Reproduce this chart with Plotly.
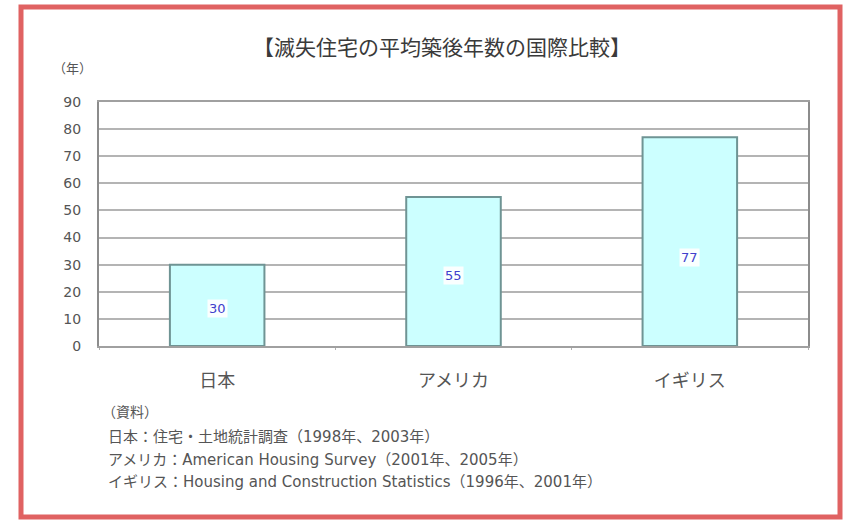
import plotly.graph_objects as go

# Average age of demolished housing, by country (years)
countries = ["日本", "アメリカ", "イギリス"]
avg_years = [30, 55, 77]
y_ticks = [0, 10, 20, 30, 40, 50, 60, 70, 80, 90]

title_text = "【滅失住宅の平均築後年数の国際比較】"
unit_text = "（年）"
source_head = "（資料）"
source_lines = [
    "日本：住宅・土地統計調査（1998年、2003年）",
    "アメリカ：American Housing Survey（2001年、2005年）",
    "イギリス：Housing and Construction Statistics（1996年、2001年）",
]

W, H = 847, 520
L, R, T, B = 99, 39, 102, 174
PW, PH = W - L - R, H - T - B
FONT = "Noto Sans CJK JP"
WIDE = "DejaVu Sans, Noto Sans CJK JP"
GREY = "#555555"


def px_x(px):
    return (px - L) / PW


def px_y(py):
    return (H - B - py) / PH


fig = go.Figure()
fig.add_trace(go.Bar(
    x=countries,
    y=avg_years,
    width=0.40,
    marker=dict(color="#ccffff", line=dict(color="#6f9494", width=2)),
    hoverinfo="skip",
))

# value labels sitting inside each bar
label_shift = [-3, -4, -16]
annotations = []
for c, v, s in zip(countries, avg_years, label_shift):
    annotations.append(dict(
        x=c, y=v / 2, xref="x", yref="y", text=str(v), showarrow=False,
        yshift=s, font=dict(family=WIDE, size=13, color="#4040cc"),
        bgcolor="rgba(255,255,255,0.9)", borderpad=1,
    ))

# unit label above the value axis
annotations.append(dict(
    x=px_x(72), y=px_y(68), xref="paper", yref="paper", text=unit_text,
    showarrow=False, xanchor="center", yanchor="middle",
    font=dict(family=FONT, size=13, color=GREY),
))

# source notes
annotations.append(dict(
    x=px_x(100), y=px_y(411), xref="paper", yref="paper", text=source_head,
    showarrow=False, xanchor="left", yanchor="middle",
    font=dict(family=FONT, size=14, color=GREY),
))
for i, line in enumerate(source_lines):
    annotations.append(dict(
        x=px_x(106), y=px_y(437 + 22.5 * i), xref="paper", yref="paper",
        text=line, showarrow=False, xanchor="left", yanchor="middle",
        font=dict(family=WIDE, size=15, color=GREY),
    ))

shapes = [
    # dotted reference line at 80
    dict(type="line", xref="paper", yref="y", x0=0, x1=1, y0=80, y1=80,
         line=dict(color="white", width=2), layer="below"),
    dict(type="line", xref="paper", yref="y", x0=0, x1=1, y0=80, y1=80,
         line=dict(color="#8a8a8a", width=2, dash="dot"), layer="below"),
    # red frame around the whole chart
    dict(type="rect", xref="paper", yref="paper",
         x0=px_x(21), x1=px_x(840), y0=px_y(7), y1=px_y(517),
         line=dict(color="#e06262", width=5)),
]

fig.update_layout(
    width=W, height=H,
    margin=dict(l=L, r=R, t=T, b=B),
    paper_bgcolor="white",
    plot_bgcolor="white",
    showlegend=False,
    bargap=0.6,
    title=dict(
        text=title_text, x=442 / W, xanchor="center",
        y=1 - 48 / H, yanchor="middle", yref="container",
        font=dict(family=FONT, size=21, color="#3a3a3a"),
    ),
    xaxis=dict(
        showline=True, linecolor="#a0a0a0", linewidth=2, mirror=True,
        ticks="outside", tickson="boundaries", ticklen=2, tickcolor="#b0b0b0",
        ticklabelstandoff=17,
        tickfont=dict(family=FONT, size=18, color=GREY),
        showgrid=False, fixedrange=True,
    ),
    yaxis=dict(
        range=[0, 90], tickvals=y_ticks,
        showline=True, linecolor="#8c8c8c", linewidth=2, mirror=True,
        showgrid=True, gridcolor="#b4b4b4", gridwidth=1.5,
        ticks="", ticklabelstandoff=13,
        tickfont=dict(family=WIDE, size=14, color=GREY),
        zeroline=False, fixedrange=True,
    ),
    annotations=annotations,
    shapes=shapes,
)

fig.write_html("out.html")
